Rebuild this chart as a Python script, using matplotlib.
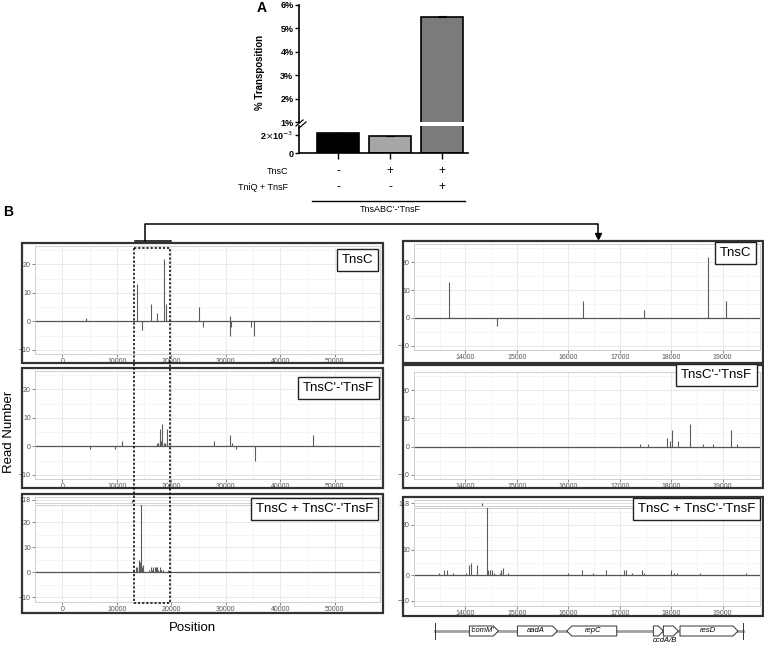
import numpy as np
import matplotlib
matplotlib.use("Agg")
import matplotlib.pyplot as plt
from matplotlib.lines import Line2D
from matplotlib.patches import Rectangle, Polygon

plt.rcParams['font.family'] = ['Liberation Sans', 'DejaVu Sans']

W, H = 764, 645

# ---- panel A: % transposition
tnsc_row = ["-", "+", "+"]
tniq_row = ["-", "-", "+"]
transposition = [0.0022, 0.0019, 5.5]
transposition_err = [0.00004, 0.00003, 0.02]
bar_colors = ['#000000', '#a6a6a6', '#7b7b7b']

# ---- panel B: read counts per position
tnsc_pos = [4300, 13680, 14610, 16290, 17470, 18720, 19070, 25030, 25740,
            30700, 30800, 31000, 34700, 35100]
tnsc_reads = [1, 13, -3, 6, 3, 22, 6, 5, -2, 2, -5, -2, -2, -5]

fus_pos = [5180, 9720, 11010, 17400, 17550, 17910, 17975, 18020, 18130, 18360,
           18610, 18815, 19170, 19280, 27800, 30800, 31200, 31800, 35300, 46050]
fus_reads = [-1, -1, 2, 1, 1, 3, 2, 6, 2, 8, 1, 1, 6, 1, 2, 4, 1, -1, -5, 4]

combo_pos = [13480, 13575, 13637, 13765, 14019, 14064, 14102, 14223, 14426, 14445,
             14477, 14509, 14560, 14668, 14700, 14725, 14827, 15991, 16265, 16475,
             16735, 17085, 17117, 17232, 17422, 17480, 17995, 18059, 18103, 18567, 19445]
combo_reads = [1, 2, 2, 1, 1, 4, 5, 4, 118, 2, 2, 2, 1, 1, 2, 3, 1, 1, 2, 1,
               2, 2, 2, 1, 2, 1, 2, 1, 1, 1, 1]

full_xlim = (-2650, 58300)
zoom_xlim = (13120, 19725)

# gene map (start, end, name, direction)
map_span = (13523, 19400)
genes = [(14177, 14731, "'comM'", 1),
         (15094, 15857, "aadA", 1),
         (16036, 16990, "repC", -1),
         (17689, 17880, "", 1),
         (17880, 18166, "", 1),
         (18198, 19305, "resD", 1)]


def box(x0, y0, x1, y1):
    return [x0 / W, 1 - y1 / H, (x1 - x0) / W, (y1 - y0) / H]


def fx(x):
    return x / W


def fy(y):
    return 1 - y / H


def fline(xs, ys, **kw):
    fig.add_artist(Line2D([fx(v) for v in xs], [fy(v) for v in ys],
                          transform=fig.transFigure, **kw))


fig = plt.figure(figsize=(W / 100, H / 100), dpi=100)

# ================= panel A =================
x = np.arange(3)
axU = fig.add_axes(box(299, 5, 468, 122))
axL = fig.add_axes(box(299, 126, 468, 153))
for ax in (axU, axL):
    ax.bar(x, transposition, width=0.8, color=bar_colors, edgecolor='black', lw=1.2,
           yerr=transposition_err, capsize=3, error_kw=dict(lw=0.8, capthick=0.8))
    ax.set_xlim(-0.75, 2.5)
    for s in ('top', 'right'):
        ax.spines[s].set_visible(False)
    ax.spines['left'].set_linewidth(1.2)
    ax.tick_params(axis='y', labelsize=6.5, width=1, length=3, pad=1)

axU.set_ylim(1, 6)
axU.set_yticks([1, 2, 3, 4, 5, 6])
axU.set_yticklabels([f"{v}%" for v in range(1, 7)], fontweight='bold')
axU.spines['bottom'].set_visible(False)
axU.set_xticks([])

axL.set_ylim(0, 0.003)
axL.set_yticks([0, 0.002])
axL.set_yticklabels(['0', r'2$\times$10$^{-3}$'], fontweight='bold')
axL.spines['bottom'].set_linewidth(1.2)
axL.set_xticks(x)
axL.set_xticklabels([])
axL.tick_params(axis='x', length=4, width=1)

# axis break marks
fline([296, 303], [126, 120], color='black', lw=0.9)
fline([299, 306], [128, 122], color='black', lw=0.9)

fig.text(fx(260), fy(72), '% Transposition', rotation=90, ha='center', va='center',
         fontsize=7, fontweight='bold')
fig.text(fx(262), fy(8), 'A', fontsize=10, fontweight='bold', ha='center', va='center')

xc = [338, 390, 442]
fig.text(fx(288), fy(172), 'TnsC', fontsize=6.5, ha='right', va='center')
fig.text(fx(288), fy(188), 'TniQ + TnsF', fontsize=6.5, ha='right', va='center')
for i in range(3):
    fig.text(fx(xc[i]), fy(171), tnsc_row[i], fontsize=8.5, ha='center', va='center')
    fig.text(fx(xc[i]), fy(187), tniq_row[i], fontsize=8.5, ha='center', va='center')
fline([312, 465], [201, 201], color='black', lw=1)
fig.text(fx(390), fy(210), "TnsABC\u2019-\u2018TnsF", fontsize=6.5, ha='center', va='center')

# ================= panel B =================
fig.text(fx(8), fy(212), 'B', fontsize=10, fontweight='bold', ha='center', va='center')


def style_axes(ax, xlim, ylim, xmajor, xminor):
    ax.set_xlim(xlim)
    ax.set_ylim(ylim)
    ax.set_xticks(xmajor)
    ax.set_xticks(xminor, minor=True)
    ax.set_yticks([-10, 0, 10, 20])
    ax.set_yticks([-5, 5, 15, 25], minor=True)
    ax.grid(True, which='major', color='#e6e6e6', lw=0.6)
    ax.grid(True, which='minor', color='#f2f2f2', lw=0.5)
    ax.set_axisbelow(True)
    ax.tick_params(which='major', labelsize=5, colors='#555555', length=2, width=0.5, pad=1)
    ax.tick_params(which='minor', length=0)
    for s in ax.spines.values():
        s.set_color('#c8c8c8')
        s.set_linewidth(0.6)


def read_panel(rect, pos, reads, xlim, ylim, xmajor, xminor, strip=None):
    ax = fig.add_axes(box(*rect))
    style_axes(ax, xlim, ylim, xmajor, xminor)
    ax.axhline(0, color='#555555', lw=0.9, zorder=2)
    ax.vlines(pos, 0, reads, color='#5c5c5c', lw=0.8, zorder=3)
    if strip is not None:
        sx = fig.add_axes(box(*strip))
        sx.set_xlim(xlim)
        sx.set_ylim(117, 119)
        sx.set_xticks([])
        sx.set_yticks([118])
        sx.tick_params(labelsize=5, colors='#555555', length=2, width=0.5, pad=1)
        sx.axhline(118, color='#d8d8d8', lw=0.5)
        sx.vlines(pos, 0, reads, color='#5c5c5c', lw=0.8)
        for s in sx.spines.values():
            s.set_color('#c8c8c8')
            s.set_linewidth(0.6)
    return ax


full_major = list(range(0, 60000, 10000))
full_minor = list(range(-5000, 60000, 5000))
zoom_major = list(range(14000, 20000, 1000))
zoom_minor = list(range(13000, 20000, 500))

ylim_a = (-11.5, 26.5)

axl1 = read_panel((35, 246, 380, 354), tnsc_pos, tnsc_reads, full_xlim, ylim_a, full_major, full_minor)
axl2 = read_panel((35, 371, 380, 479), fus_pos, fus_reads, full_xlim, ylim_a, full_major, full_minor)
axl3 = read_panel((35, 505, 380, 602), combo_pos, combo_reads, full_xlim, (-12, 27), full_major, full_minor,
                  strip=(35, 497, 380, 503))
axr1 = read_panel((414, 244, 760, 350), tnsc_pos, tnsc_reads, zoom_xlim, ylim_a, zoom_major, zoom_minor)
axr2 = read_panel((414, 372, 760, 479), fus_pos, fus_reads, zoom_xlim, ylim_a, zoom_major, zoom_minor)
axr3 = read_panel((414, 508, 760, 606), combo_pos, combo_reads, zoom_xlim, (-12, 26.5), zoom_major, zoom_minor,
                  strip=(414, 500, 760, 506))

# outer frames
for (x0, y0, x1, y1) in [(22, 243, 383, 363), (22, 368, 383, 488), (22, 494, 383, 613),
                         (403, 241, 763, 363), (403, 365, 763, 488), (403, 497, 763, 616)]:
    fig.add_artist(Rectangle((fx(x0), fy(y1)), (x1 - x0) / W, (y1 - y0) / H,
                             transform=fig.transFigure, fill=False, ec='#333333', lw=1.6))

# condition labels
labels = [("TnsC", 378, 250), ("TnsC'-'TnsF", 379, 378), ("TnsC + TnsC'-'TnsF", 378, 499),
          ("TnsC", 756, 243), ("TnsC'-'TnsF", 757, 365), ("TnsC + TnsC'-'TnsF", 760, 499)]
for txt, xr, yt in labels:
    fig.text(fx(xr - 5), fy(yt + 4), txt, fontsize=9.5, ha='right', va='top', zorder=10,
             bbox=dict(boxstyle='square,pad=0.35', fc='white', ec='#222222', lw=1))

fig.text(fx(9), fy(432), 'Read Number', rotation=90, fontsize=9.5, ha='center', va='center')
fig.text(fx(192), fy(628), 'Position', fontsize=9.5, ha='center', va='center')

# dotted zoom window on the left panels
p0 = axl1.transData.transform((zoom_xlim[0], 0))[0]
p1 = axl1.transData.transform((zoom_xlim[1], 0))[0]
zx0 = p0 / fig.dpi * 100
zx1 = p1 / fig.dpi * 100
fline([zx0, zx1, zx1, zx0, zx0], [248, 248, 603, 603, 248], color='black', lw=1.1,
      ls=(0, (1.5, 1.2)), zorder=20)

# connector to zoomed panels
fline([zx0 + 1, zx1 + 1], [241, 241], color='black', lw=1.1)
fline([145, 145, 598, 598], [241, 224, 224, 235], color='black', lw=1.1)
fig.add_artist(Line2D([fx(598)], [fy(236)], marker='v', ms=5, color='black',
                      transform=fig.transFigure))

# gene map
gx = fig.add_axes(box(414, 621, 760, 641))
gx.set_xlim(zoom_xlim)
gx.set_ylim(-1, 1)
gx.axis('off')
gx.plot(map_span, [0, 0], color='#a0a0a0', lw=2, zorder=1)
for xe in map_span:
    gx.plot([xe, xe], [-0.8, 0.8], color='#333333', lw=0.7, zorder=2)
tip = 95
for g0, g1, name, d in genes:
    if d > 0:
        pts = [(g0, -0.5), (g1 - tip, -0.5), (g1, 0), (g1 - tip, 0.5), (g0, 0.5)]
    else:
        pts = [(g0, 0), (g0 + tip, -0.5), (g1, -0.5), (g1, 0.5), (g0 + tip, 0.5)]
    gx.add_patch(Polygon(pts, closed=True, fc='white', ec='#333333', lw=0.7, zorder=3))
    if name:
        gx.text((g0 + g1) / 2 - (25 if d > 0 else -25), 0, name, fontsize=5.5, style='italic',
                ha='center', va='center', zorder=4)
fig.text(fx(665), fy(640), 'ccdA/B', fontsize=5.5, style='italic', ha='center', va='center')

fig.savefig('out.png', dpi=100)
